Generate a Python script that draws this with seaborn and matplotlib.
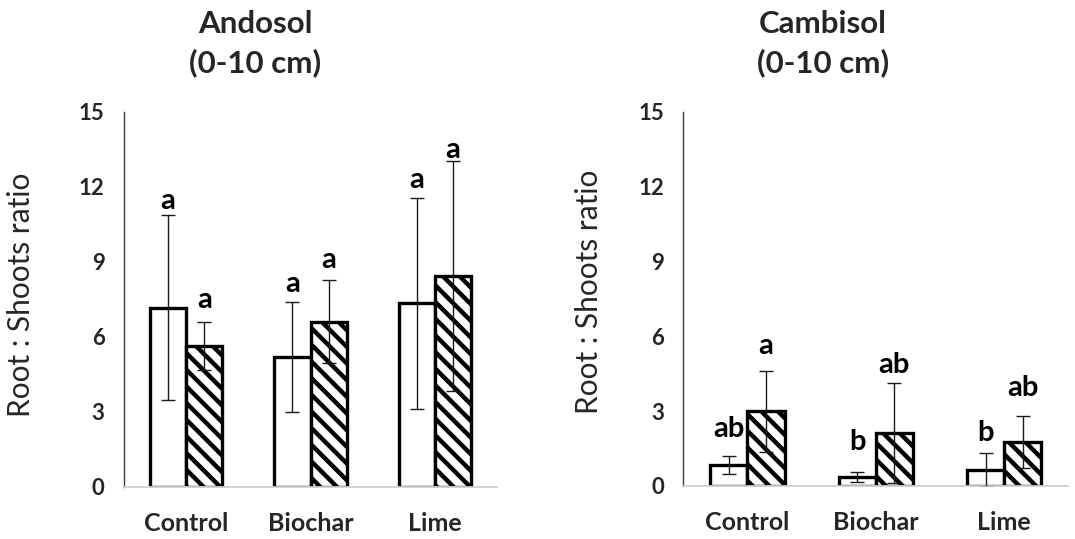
import matplotlib
matplotlib.use("Agg")
import matplotlib.pyplot as plt
import seaborn as sns
import pandas as pd

sns.set_style("white")
plt.rcParams["font.family"] = ["Lato", "DejaVu Sans"]
plt.rcParams["hatch.linewidth"] = 3.2

treatments = ["Control", "Biochar", "Lime"]
series = ["Plain", "Hatched"]

# Andosol (0-10 cm)
andosol_plain = [7.15, 5.2, 7.33]
andosol_plain_err = [3.7, 2.2, 4.23]
andosol_hatched = [5.63, 6.6, 8.43]
andosol_hatched_err = [0.95, 1.67, 4.6]
andosol_plain_letters = ["a", "a", "a"]
andosol_hatched_letters = ["a", "a", "a"]
andosol_plain_letter_y = [11.1, 7.78, 11.93]
andosol_hatched_letter_y = [7.14, 8.76, 13.13]

# Cambisol (0-10 cm)
cambisol_plain = [0.84, 0.37, 0.64]
cambisol_plain_err = [0.35, 0.2, 0.67]
cambisol_hatched = [3.0, 2.13, 1.77]
cambisol_hatched_err = [1.62, 2.0, 1.04]
cambisol_plain_letters = ["ab", "b", "b"]
cambisol_hatched_letters = ["a", "ab", "ab"]
cambisol_plain_letter_y = [1.97, 1.44, 1.81]
cambisol_hatched_letter_y = [5.28, 4.51, 3.6]

yticks = [0, 3, 6, 9, 12, 15]
ylabel = "Root : Shoots ratio"


def build_frame(plain, hatched):
    return pd.DataFrame({
        "treatment": treatments * 2,
        "series": [series[0]] * 3 + [series[1]] * 3,
        "value": list(plain) + list(hatched),
    })


def draw_panel(ax, plain, plain_err, hatched, hatched_err,
               plain_letters, hatched_letters, plain_ly, hatched_ly):
    df = build_frame(plain, hatched)
    sns.barplot(data=df, x="treatment", y="value", hue="series",
                order=treatments, hue_order=series,
                palette=["white", "white"], edgecolor="black",
                linewidth=2.4, width=0.58, errorbar=None,
                legend=False, ax=ax)
    for patch in ax.containers[1]:
        patch.set_hatch("\\\\")
    groups = [(ax.containers[0], plain, plain_err, plain_letters, plain_ly),
              (ax.containers[1], hatched, hatched_err, hatched_letters, hatched_ly)]
    for cont, vals, errs, letters, ly in groups:
        xs = [p.get_x() + p.get_width() / 2 for p in cont]
        ax.errorbar(xs, vals, yerr=errs, fmt="none", ecolor="#1a1a1a",
                    elinewidth=1.0, capsize=5, capthick=1.0, zorder=5)
        for x, lab, y in zip(xs, letters, ly):
            ax.text(x, y, lab, ha="center", va="baseline",
                    fontsize=21, fontweight="bold", color="black")
    ax.set_xlim(-0.5, 2.5)
    ax.set_ylim(0, 15)
    ax.set_yticks(yticks)
    ax.set_yticklabels([str(t) for t in yticks], fontsize=16,
                       fontweight="bold")
    ax.set_xticks(range(3))
    ax.set_xticklabels(treatments, fontsize=18, fontweight="bold")
    ax.tick_params(axis="y", length=0, pad=14)
    ax.tick_params(axis="x", length=0, pad=18)
    ax.set_xlabel("")
    ax.set_ylabel(ylabel, fontsize=21.5, fontweight="normal")
    for side in ["top", "right"]:
        ax.spines[side].set_visible(False)
    ax.spines["left"].set_color("#404040")
    ax.spines["left"].set_linewidth(1.0)
    ax.spines["bottom"].set_color("#d0d0d0")
    ax.spines["bottom"].set_linewidth(1.3)


fig = plt.figure(figsize=(10.75, 5.39), dpi=100)
ax1 = fig.add_axes([124 / 1075, 1 - 486.7 / 539, 373 / 1075, 375 / 539])
ax2 = fig.add_axes([683.3 / 1075, 1 - 486 / 539, 385 / 1075, 374.3 / 539])

draw_panel(ax1, andosol_plain, andosol_plain_err, andosol_hatched,
           andosol_hatched_err, andosol_plain_letters, andosol_hatched_letters,
           andosol_plain_letter_y, andosol_hatched_letter_y)
draw_panel(ax2, cambisol_plain, cambisol_plain_err, cambisol_hatched,
           cambisol_hatched_err, cambisol_plain_letters, cambisol_hatched_letters,
           cambisol_plain_letter_y, cambisol_hatched_letter_y)

ax1.yaxis.set_label_coords(-0.239, 0.511)
ax2.yaxis.set_label_coords(-0.209, 0.52)

for x, name in [(255 / 1075, "Andosol"), (823 / 1075, "Cambisol")]:
    fig.text(x, 1 - 33 / 539, name, ha="center", va="baseline",
             fontsize=22.5, fontweight="bold")
    fig.text(x, 1 - 72 / 539, "(0-10 cm)", ha="center", va="baseline",
             fontsize=22.5, fontweight="bold")

fig.savefig("out.png", dpi=100)
